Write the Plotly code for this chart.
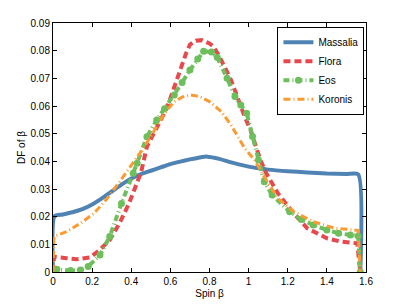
import plotly.graph_objects as go

# ---- data ----
massalia_x = [0, 0.008, 0.05, 0.1, 0.15, 0.2, 0.25, 0.3, 0.35, 0.4, 0.45, 0.5, 0.55, 0.6, 0.65, 0.7,
              0.75, 0.79, 0.85, 0.9, 0.95, 1.0, 1.05, 1.1, 1.2, 1.3, 1.4, 1.5, 1.56, 1.5708]
massalia_y = [0, 0.0202, 0.0208, 0.0216, 0.0227, 0.0244, 0.0266, 0.0291, 0.0316, 0.0338, 0.0354, 0.0366,
              0.0378, 0.039, 0.0399, 0.0407, 0.0414, 0.0417, 0.0409, 0.0398, 0.0389, 0.0381, 0.0375,
              0.037, 0.0364, 0.036, 0.0356, 0.0354, 0.0353, 0]

flora_x = [0, 0.005, 0.07, 0.12, 0.19, 0.24, 0.29, 0.34, 0.39, 0.45, 0.48, 0.53, 0.58, 0.6, 0.62,
           0.64, 0.66, 0.68, 0.7, 0.73, 0.76, 0.8, 0.82, 0.85, 0.91, 0.94, 0.98, 1.01, 1.06, 1.09,
           1.15, 1.23, 1.3, 1.4, 1.47, 1.555, 1.5708]
flora_y = [0, 0.0055, 0.005, 0.0046, 0.0053, 0.008, 0.0116, 0.0176, 0.025, 0.036, 0.0453, 0.0525,
           0.059, 0.0628, 0.067, 0.0712, 0.0754, 0.079, 0.0822, 0.0836, 0.0838, 0.0826, 0.0815,
           0.078, 0.0694, 0.0634, 0.0561, 0.0513, 0.0405, 0.0357, 0.0284, 0.0212, 0.0158, 0.0122,
           0.011, 0.0104, 0]

eos_x = [0, 0.02, 0.09, 0.14, 0.18, 0.24, 0.29, 0.35, 0.41, 0.43, 0.48, 0.53, 0.57, 0.62, 0.66,
         0.7, 0.74, 0.77, 0.81, 0.84, 0.89, 0.93, 0.96, 0.99, 1.02, 1.05, 1.08, 1.12, 1.21, 1.27,
         1.33, 1.4, 1.46, 1.52, 1.56, 1.5708]
eos_y = [0, 0.001, 0.0005, 0.0007, 0.002, 0.0061, 0.0128, 0.0248, 0.0357, 0.0393, 0.0489, 0.0549,
         0.059, 0.064, 0.0685, 0.073, 0.077, 0.0798, 0.0795, 0.0775, 0.07, 0.0634, 0.0604, 0.0574,
         0.049, 0.0405, 0.0326, 0.0278, 0.0218, 0.019, 0.017, 0.0152, 0.014, 0.0134, 0.013, 0]

koronis_x = [0, 0.005, 0.07, 0.14, 0.21, 0.27, 0.34, 0.41, 0.45, 0.5, 0.57, 0.62, 0.66, 0.7, 0.75,
             0.8, 0.86, 0.91, 0.98, 1.03, 1.08, 1.15, 1.23, 1.33, 1.44, 1.54, 1.56, 1.5708]
koronis_y = [0, 0.0128, 0.0146, 0.0176, 0.0212, 0.026, 0.0326, 0.0393, 0.0435, 0.049, 0.0574,
             0.0616, 0.0632, 0.064, 0.0634, 0.0616, 0.058, 0.0531, 0.0447, 0.0405, 0.0344, 0.0266,
             0.0218, 0.0182, 0.0158, 0.0152, 0.015, 0]

x_ticks = [0, 0.2, 0.4, 0.6, 0.8, 1, 1.2, 1.4, 1.6]
x_tick_labels = ["0", "0.2", "0.4", "0.6", "0.8", "1", "1.2", "1.4", "1.6"]
y_ticks = [0, 0.01, 0.02, 0.03, 0.04, 0.05, 0.06, 0.07, 0.08, 0.09]
y_tick_labels = ["0", "0.01", "0.02", "0.03", "0.04", "0.05", "0.06", "0.07", "0.08", "0.09"]

FONT = "Liberation Sans, Arial, Helvetica"

fig = go.Figure()
fig.add_trace(go.Scatter(x=massalia_x, y=massalia_y, mode="lines", name="Massalia",
                         line=dict(color="#4f83b4", width=4, shape="spline", smoothing=0.6)))
fig.add_trace(go.Scatter(x=flora_x, y=flora_y, mode="lines", name="Flora",
                         line=dict(color="#e8474c", width=4, dash="7px,4px")))
fig.add_trace(go.Scatter(x=eos_x, y=eos_y, mode="lines+markers", name="Eos",
                         line=dict(color="#6cbf5b", width=4, dash="6px,3px,1px,3px"),
                         marker=dict(size=7, color="#6cbf5b")))
fig.add_trace(go.Scatter(x=koronis_x, y=koronis_y, mode="lines", name="Koronis",
                         line=dict(color="#fb9a30", width=3, dash="7px,3px,1px,3px")))

axis_common = dict(showline=True, linecolor="black", linewidth=1, mirror="ticks",
                   ticks="inside", ticklen=4, tickcolor="black", showgrid=False, zeroline=False,
                   automargin=False,
                   tickfont=dict(family=FONT, size=10, color="black"))
fig.update_xaxes(range=[0, 1.6], tickvals=x_ticks, ticktext=x_tick_labels,
                 title=dict(text="Spin β", font=dict(family=FONT, size=10, color="black"), standoff=3),
                 **axis_common)
fig.update_yaxes(range=[0, 0.09], tickvals=y_ticks, ticktext=y_tick_labels,
                 title=dict(text="DF of β", font=dict(family=FONT, size=10, color="black"), standoff=3),
                 **axis_common)

# page body has an 8px margin, so the figure is sized to the remaining window
fig.update_layout(
    width=399, height=298,
    margin=dict(l=45, r=41, t=15, b=34),
    paper_bgcolor="white", plot_bgcolor="white",
    legend=dict(x=0.995, y=0.985, xanchor="right", yanchor="top",
                bgcolor="white", bordercolor="black", borderwidth=1,
                font=dict(family=FONT, size=10, color="black"),
                tracegroupgap=0, itemwidth=30),
    showlegend=True,
)

fig.write_html("out.html")
